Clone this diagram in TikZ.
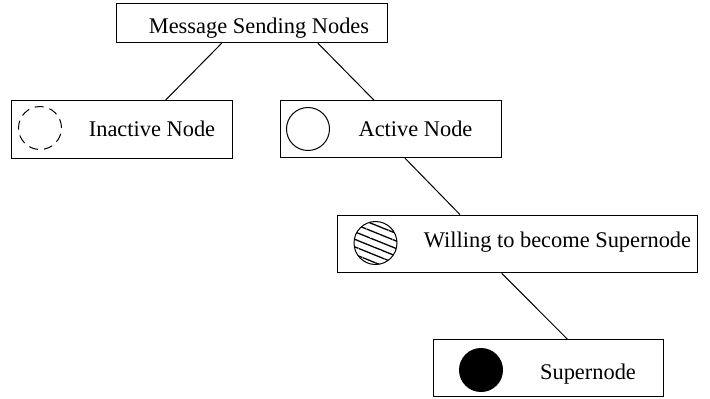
\documentclass[tikz,border=0pt]{standalone}
\usepackage{fontspec}
\setmainfont{Liberation Serif}
\usetikzlibrary{patterns.meta}
\begin{document}
\begin{tikzpicture}[x=0.5pt,y=-0.5pt,
  box/.style={draw,line width=0.5pt,rectangle,inner sep=0pt},
  lbl/.style={anchor=base,inner sep=0pt,font=\fontsize{11.2}{13.5}\selectfont},
  dot/.style={circle,inner sep=0pt,minimum size=21.5pt,line width=0.5pt},
  conn/.style={line width=0.5pt}]
\useasboundingbox (0,0) rectangle (710,398);
% boxes
\node[box,minimum width=135.5pt,minimum height=19.4pt] (top) at (251.5,23.3) {};
\node[box,minimum width=110.9pt,minimum height=28.7pt] (inactive) at (122,129.3) {};
\node[box,minimum width=110.9pt,minimum height=28.5pt] (active) at (391,129.2) {};
\node[box,minimum width=180pt,minimum height=28.9pt] (willing) at (517,244) {};
\node[box,minimum width=115pt,minimum height=28.3pt] (super) at (548,368.2) {};
% labels
\node[lbl] (toplbl) at (259,33.3) {Message Sending Nodes};
\node[lbl] (inactivelbl) at (152,136.7) {Inactive Node};
\node[lbl] (activelbl) at (415.5,136.7) {Active Node};
\node[lbl] (willinglbl) at (557.5,247.3) {Willing to become Supernode};
\node[lbl] (superlbl) at (588,379.3) {Supernode};
% icons
\node[dot,draw,dash pattern=on 4.5pt off 3pt] (c1) at (40,128) {};
\node[dot,draw] (c2) at (308,129) {};
\node[dot,draw,pattern={Lines[angle=-22,distance=3.5pt,line width=0.65pt]}] (c3) at (375.5,243) {};
\node[dot,draw,fill=black] (c4) at (481,370) {};
% connectors
\draw[conn] ([xshift=-14.9pt]top.south) -- ([xshift=21.8pt]inactive.north);
\draw[conn] ([xshift=33.2pt]top.south) -- ([xshift=-8.5pt]active.north);
\draw[conn] ([xshift=7pt]active.south) -- ([xshift=-28.5pt]willing.north);
\draw[conn] ([xshift=-7.6pt]willing.south) -- ([xshift=9.8pt]super.north);
\end{tikzpicture}
\end{document}
